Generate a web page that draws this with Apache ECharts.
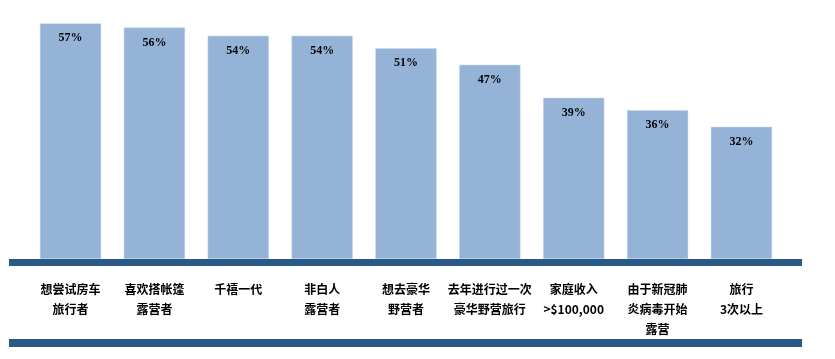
<!DOCTYPE html>
<html>
<head>
<meta charset="utf-8">
<script src="https://cdn.jsdelivr.net/npm/echarts@6/dist/echarts.min.js"></script>
<style>html,body{margin:0;padding:0;background:#fff}#c{width:835px;height:359px}</style>
</head>
<body>
<div id="c"></div>
<script>
var categories = ["想尝试房车\n旅行者", "喜欢搭帐篷\n露营者", "千禧一代", "非白人\n露营者", "想去豪华\n野营者", "去年进行过一次\n豪华野营旅行", "家庭收入\n>$100,000", "由于新冠肺\n炎病毒开始\n露营", "旅行\n3次以上"];
var values = [57, 56, 54, 54, 51, 47, 39, 36, 32];

var chart = echarts.init(document.getElementById('c'), null, {renderer: 'canvas'});
chart.setOption({
  animation: false,
  backgroundColor: '#ffffff',
  grid: {left: 28.6, right: 51.6, top: 11, bottom: 100, containLabel: false},
  xAxis: {
    type: 'category',
    data: categories,
    axisLine: {show: false},
    axisTick: {show: false},
    axisLabel: {
      interval: 0,
      margin: 20,
      fontSize: 12,
      lineHeight: 20,
      fontWeight: 'bold',
      color: '#000',
      fontFamily: '"Noto Sans CJK SC", sans-serif'
    }
  },
  yAxis: {type: 'value', min: 0, max: 60, show: false, splitLine: {show: false}},
  series: [{
    type: 'bar',
    data: values,
    barCategoryGap: '27%',
    itemStyle: {color: '#95b3d7', borderColor: '#c6d6ea', borderWidth: 0.5},
    label: {
      show: true,
      position: 'insideTop',
      distance: 9,
      formatter: '{c}%',
      fontFamily: '"Liberation Serif", serif',
      fontWeight: 'bold',
      fontSize: 12,
      color: '#000'
    }
  }],
  graphic: [
    {type: 'rect', shape: {x: 9, y: 259, width: 793, height: 7}, style: {fill: '#2b5985'}, z: 10},
    {type: 'rect', shape: {x: 9, y: 339, width: 793, height: 8}, style: {fill: '#2b5985'}, z: 10}
  ]
});
</script>
</body>
</html>
